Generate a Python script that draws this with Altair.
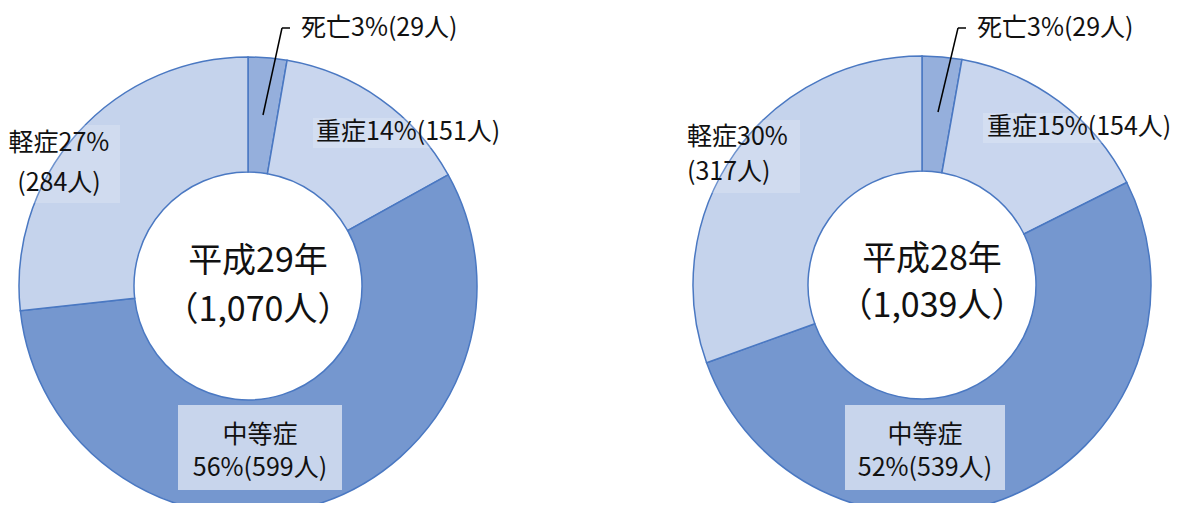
import altair as alt
import pandas as pd

# ---- data ----
categories = ["死亡", "重症", "中等症", "軽症"]
years = ["平成29年", "平成28年"]
values_h29 = [29, 151, 599, 284]
values_h28 = [29, 154, 539, 317]
pct_h29 = [3, 14, 56, 27]
pct_h28 = [3, 15, 52, 30]
totals = ["1,070", "1,039"]

# ---- style ----
FONT = "Noto Sans CJK JP"
STROKE = "#4a78c2"
FILLS = ["#95afdc", "#c9d6ee", "#7597cf", "#c5d3ec"]
R_OUT, R_IN = 229, 114
CENTERS = [(240, 278), (914, 277)]


def frame(vals):
    total = sum(vals)
    return pd.DataFrame({
        "category": categories,
        "value": vals,
        "frac": [v / total for v in vals],
        "order": list(range(len(categories))),
    })


def donut(vals, cx, cy):
    return alt.Chart(frame(vals)).mark_arc(
        outerRadius=R_OUT, innerRadius=R_IN, stroke=STROKE, strokeWidth=1.5
    ).encode(
        theta=alt.Theta("frac:Q", stack=True, scale=alt.Scale(domain=[0, 1])),
        order=alt.Order("order:Q", sort="ascending"),
        color=alt.Color("category:N", scale=alt.Scale(domain=categories, range=FILLS), legend=None),
        x=alt.value(cx),
        y=alt.value(cy),
    )


one = pd.DataFrame({"k": [0]})


def text(t, x, y, size=25, align="left"):
    return alt.Chart(one).mark_text(
        text=t, font=FONT, fontSize=size, align=align, baseline="middle", color="#111111"
    ).encode(x=alt.value(x), y=alt.value(y))


def rule(x1, y1, x2, y2, color="#000000", w=1.5):
    return alt.Chart(one).mark_rule(color=color, strokeWidth=w).encode(
        x=alt.value(x1), y=alt.value(y1), x2=alt.value(x2), y2=alt.value(y2)
    )


def box(x1, y1, x2, y2, opacity):
    return alt.Chart(one).mark_rect(color="white", opacity=opacity).encode(
        x=alt.value(x1), y=alt.value(y1), x2=alt.value(x2), y2=alt.value(y2)
    )


TOP_Y = 20

layers = []

# ---- left: 平成29年 ----
cx, cy = CENTERS[0]
layers.append(donut(values_h29, cx, cy))
layers += [
    box(305, 110, 494, 140, 0.2),
    box(0, 117, 112, 195, 0.2),
    box(170, 397, 334, 482, 0.6),
    rule(255, 107, 274, TOP_Y),
    rule(274, TOP_Y, 282, TOP_Y),
    text(f"{categories[0]}{pct_h29[0]}%({values_h29[0]}人)", 293, TOP_Y),
    text(f"{categories[1]}{pct_h29[1]}%({values_h29[1]}人)", 308, 124),
    text(f"{categories[3]}{pct_h29[3]}%", 51, 135, align="center"),
    text(f"({values_h29[3]}人)", 51, 175, align="center"),
    text(categories[2], 252, 427, align="center"),
    text(f"{pct_h29[2]}%({values_h29[2]}人)", 252, 460, align="center"),
    text(years[0], 250, 254, size=34, align="center"),
    text(f"（{totals[0]}人）", 250, 303, size=34, align="center"),
]

# ---- right: 平成28年 ----
cx, cy = CENTERS[1]
layers.append(donut(values_h28, cx, cy))
layers += [
    box(975, 105, 1171, 135, 0.2),
    box(675, 112, 792, 185, 0.2),
    box(837, 397, 997, 482, 0.6),
    rule(930, 104, 950, TOP_Y),
    rule(950, TOP_Y, 958, TOP_Y),
    text(f"{categories[0]}{pct_h28[0]}%({values_h28[0]}人)", 969, TOP_Y),
    text(f"{categories[1]}{pct_h28[1]}%({values_h28[1]}人)", 979, 119),
    text(f"{categories[3]}{pct_h28[3]}%", 679, 129),
    text(f"({values_h28[3]}人)", 679, 164),
    text(categories[2], 917, 427, align="center"),
    text(f"{pct_h28[2]}%({values_h28[2]}人)", 917, 460, align="center"),
    text(years[1], 924, 252, size=34, align="center"),
    text(f"（{totals[1]}人）", 924, 299, size=34, align="center"),
]

chart = alt.layer(*layers).properties(
    width=1171, height=495, padding=0, autosize="none", background="white"
).configure_view(stroke="transparent")

chart.save("out.html", embed_options={"renderer": "svg", "actions": False})
